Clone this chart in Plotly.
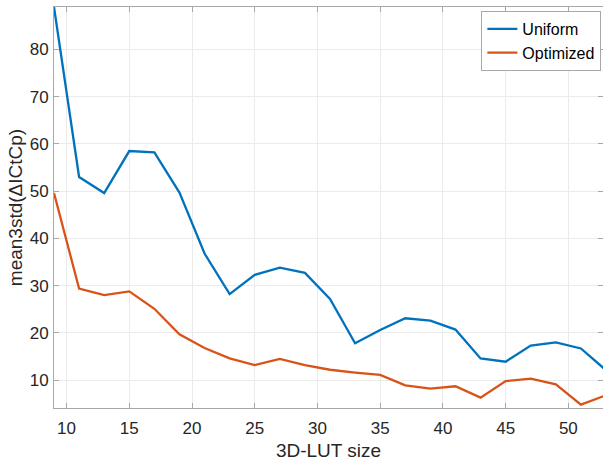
import plotly.graph_objects as go

lut_size = [9, 11, 13, 15, 17, 19, 21, 23, 25, 27, 29, 31, 33, 35, 37, 39, 41, 43, 45, 47, 49, 51, 53]
uniform = [89.0, 53.0, 49.6, 58.5, 58.2, 49.7, 36.8, 28.2, 32.3, 33.8, 32.7, 27.2, 17.8, 20.6,
           23.1, 22.6, 20.7, 14.6, 13.9, 17.3, 18.0, 16.7, 12.1]
optimized = [49.6, 29.4, 28.0, 28.8, 25.1, 19.7, 16.8, 14.6, 13.2, 14.5, 13.2, 12.2, 11.6, 11.1,
             8.9, 8.2, 8.7, 6.3, 9.8, 10.3, 9.1, 4.8, 6.8]
x_ticks = [10, 15, 20, 25, 30, 35, 40, 45, 50]
y_ticks = [10, 20, 30, 40, 50, 60, 70, 80]

font = "Liberation Sans, Arial, Helvetica, sans-serif"

fig = go.Figure()
fig.add_trace(go.Scatter(x=lut_size, y=uniform, mode="lines", name="Uniform",
                         line=dict(color="#0072BD", width=2.3)))
fig.add_trace(go.Scatter(x=lut_size, y=optimized, mode="lines", name="Optimized",
                         line=dict(color="#D95319", width=2.3)))

axis_common = dict(
    showline=True, linecolor="#a8a8a8", linewidth=1,
    ticks="inside", ticklen=5, tickcolor="#a8a8a8",
    showgrid=True, gridcolor="#ebebeb", gridwidth=1,
    zeroline=False, mirror="ticks",
    tickfont=dict(family=font, size=17, color="#262626"),
)

fig.update_layout(
    width=603, height=461,
    margin=dict(l=54, r=0, t=7, b=53),
    paper_bgcolor="white", plot_bgcolor="white",
    font=dict(family=font, color="#262626"),
    xaxis=dict(range=[9, 52.76], tickvals=x_ticks, ticklabelstandoff=5,
               title=dict(text="3D-LUT size", font=dict(family=font, size=19, color="#262626"), standoff=6),
               **axis_common),
    yaxis=dict(range=[4.1, 89], tickvals=y_ticks, ticklabelstandoff=1,
               title=dict(text="mean3std(ΔICtCp)", font=dict(family=font, size=19, color="#262626"), standoff=2),
               **axis_common),
    legend=dict(x=0.997, y=0.99, xanchor="right", yanchor="top",
                bgcolor="white", bordercolor="#a8a8a8", borderwidth=1,
                font=dict(family=font, size=16, color="#000000"),
                itemwidth=30, tracegroupgap=0),
    showlegend=True,
)

fig.write_html("out.html")
